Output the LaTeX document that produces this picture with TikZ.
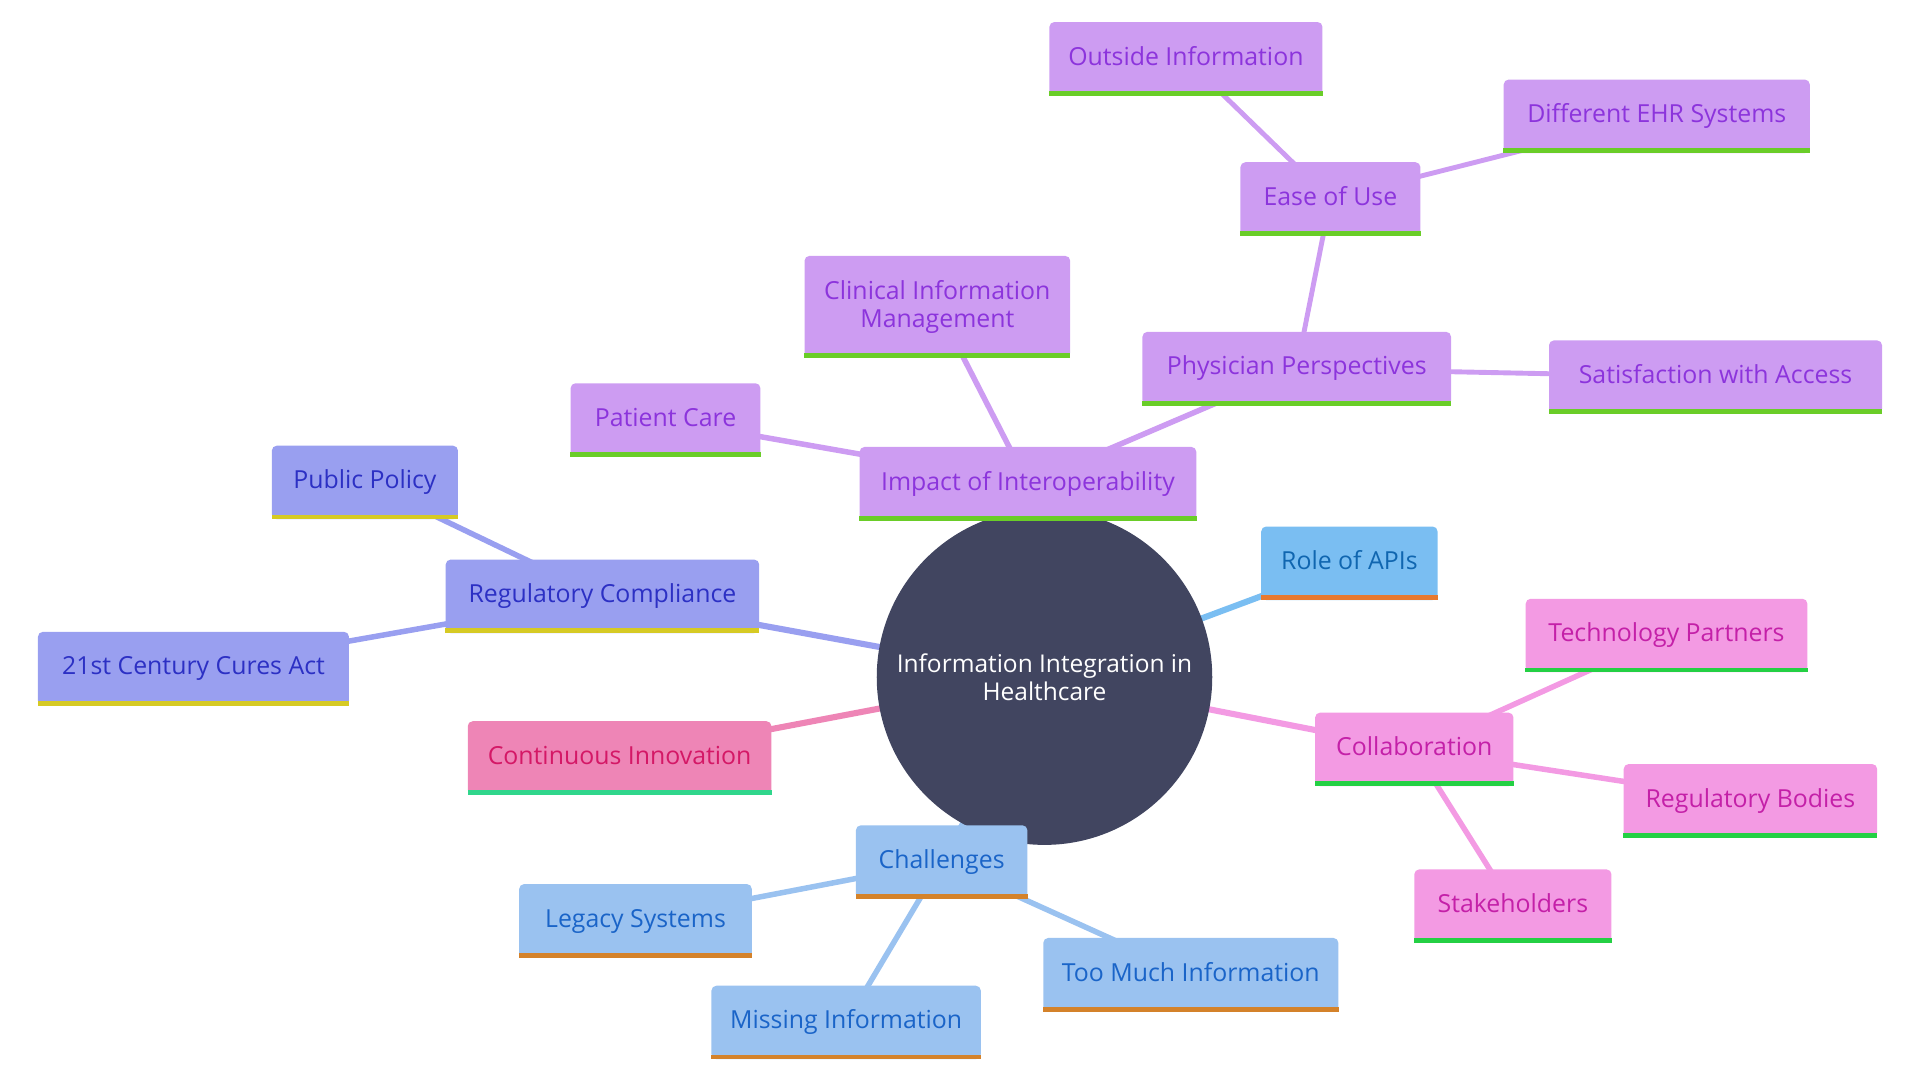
\documentclass[tikz,border=0pt]{standalone}
\usepackage{fontspec}
\setmainfont{Open Sans}
\definecolor{rootc}{RGB}{65,69,96}
\definecolor{pfill}{RGB}{205,156,242}
\definecolor{ptext}{RGB}{140,52,220}
\definecolor{pbar}{RGB}{106,205,40}
\definecolor{vfill}{RGB}{153,159,240}
\definecolor{vtext}{RGB}{44,48,196}
\definecolor{vbar}{RGB}{214,202,36}
\definecolor{afill}{RGB}{122,190,242}
\definecolor{atext}{RGB}{16,102,176}
\definecolor{abar}{RGB}{232,121,46}
\definecolor{kfill}{RGB}{243,154,227}
\definecolor{ktext}{RGB}{196,32,168}
\definecolor{kbar}{RGB}{36,208,68}
\definecolor{ifill}{RGB}{238,133,182}
\definecolor{itext}{RGB}{212,24,102}
\definecolor{ibar}{RGB}{48,214,140}
\definecolor{cfill}{RGB}{154,194,240}
\definecolor{ctext}{RGB}{26,100,200}
\definecolor{cbar}{RGB}{212,130,42}
\tikzset{
  mmbox/.style={rectangle, rounded corners=4pt, inner sep=0pt, align=center,
    font=\fontsize{20.3}{23}\selectfont, minimum height=60pt,
    text height=15.4pt, text depth=5pt},
  purp/.style={mmbox, fill=pfill, text=ptext},
  viol/.style={mmbox, fill=vfill, text=vtext},
  apis/.style={mmbox, fill=afill, text=atext},
  pink/.style={mmbox, fill=kfill, text=ktext},
  innov/.style={mmbox, fill=ifill, text=itext},
  chal/.style={mmbox, fill=cfill, text=ctext},
  rootnode/.style={circle, fill=rootc, text=white, minimum size=274pt, inner sep=0pt,
    align=center, font=\fontsize{20}{23}\selectfont},
  e1/.style={line width=5pt},
  e2/.style={line width=4.5pt},
  e3/.style={line width=4pt},
}
\begin{document}
\begin{tikzpicture}[x=1pt,y=-1pt]
\useasboundingbox (0,0) rectangle (1568,882);
\coordinate (root) at (853,553);
\coordinate (impact) at (839.5,395);
\coordinate (patient) at (543.5,343);
\coordinate (clinical) at (765.5,250.5);
\coordinate (physician) at (1059,301);
\coordinate (ease) at (1086.5,162.5);
\coordinate (outside) at (968.5,48);
\coordinate (ehr) at (1353,95);
\coordinate (satis) at (1401,308);
\coordinate (regcomp) at (492,487);
\coordinate (public) at (298,394);
\coordinate (cures) at (158,546);
\coordinate (apis) at (1102,460);
\coordinate (collab) at (1155,612);
\coordinate (tech) at (1361,519);
\coordinate (regbod) at (1429.5,654);
\coordinate (stake) at (1235.5,740);
\coordinate (innov) at (506,619);
\coordinate (chal) at (769,704);
\coordinate (legacy) at (519,752);
\coordinate (toomuch) at (972.5,796);
\coordinate (missing) at (691,835);
% connectors
\draw[e1, draw=pfill] (root) -- (impact);
\draw[e1, draw=vfill] (root) -- (regcomp);
\draw[e1, draw=afill] (root) -- (apis);
\draw[e1, draw=kfill] (root) -- (collab);
\draw[e1, draw=ifill] (root) -- (innov);
\draw[e1, draw=cfill] (root) -- (chal);
\draw[e2, draw=pfill] (impact) -- (patient);
\draw[e2, draw=pfill] (impact) -- (clinical);
\draw[e2, draw=pfill] (impact) -- (physician);
\draw[e3, draw=pfill] (physician) -- (ease);
\draw[e3, draw=pfill] (physician) -- (satis);
\draw[e3, draw=pfill] (ease) -- (outside);
\draw[e3, draw=pfill] (ease) -- (ehr);
\draw[e2, draw=vfill] (regcomp) -- (public);
\draw[e2, draw=vfill] (regcomp) -- (cures);
\draw[e2, draw=kfill] (collab) -- (tech);
\draw[e2, draw=kfill] (collab) -- (regbod);
\draw[e2, draw=kfill] (collab) -- (stake);
\draw[e2, draw=cfill] (chal) -- (legacy);
\draw[e2, draw=cfill] (chal) -- (missing);
\draw[e2, draw=cfill] (chal) -- (toomuch);
% nodes
\node[rootnode] (nroot) at (root) {Information Integration in\\Healthcare};
\node[purp, minimum width=275pt] (nimpact) at (impact) {Impact of Interoperability};
\node[purp, minimum width=155pt] (npatient) at (patient) {Patient Care};
\node[purp, minimum width=217pt, minimum height=83pt, text height={}, text depth={}] (nclinical) at (clinical) {Clinical Information\\Management};
\node[purp, minimum width=252pt] (nphysician) at (physician) {Physician Perspectives};
\node[purp, minimum width=147pt] (nease) at (ease) {Ease of Use};
\node[purp, minimum width=223pt] (noutside) at (outside) {Outside Information};
\node[purp, minimum width=250pt] (nehr) at (ehr) {Different EHR Systems};
\node[purp, minimum width=272pt] (nsatis) at (satis) {Satisfaction with Access};
\node[viol, minimum width=256pt] (nregcomp) at (regcomp) {Regulatory Compliance};
\node[viol, minimum width=152pt] (npublic) at (public) {Public Policy};
\node[viol, minimum width=254pt] (ncures) at (cures) {21st Century Cures Act};
\node[apis, minimum width=144pt] (napis) at (apis) {Role of APIs};
\node[pink, minimum width=162pt] (ncollab) at (collab) {Collaboration};
\node[pink, minimum width=230pt] (ntech) at (tech) {Technology Partners};
\node[pink, minimum width=207pt] (nregbod) at (regbod) {Regulatory Bodies};
\node[pink, minimum width=161pt] (nstake) at (stake) {Stakeholders};
\node[innov, minimum width=248pt] (ninnov) at (innov) {Continuous Innovation};
\node[chal, minimum width=140pt] (nchal) at (chal) {Challenges};
\node[chal, minimum width=190pt] (nlegacy) at (legacy) {Legacy Systems};
\node[chal, minimum width=241pt] (ntoomuch) at (toomuch) {Too Much Information};
\node[chal, minimum width=220pt] (nmissing) at (missing) {Missing Information};
% bottom bars
\foreach \n/\c in {nimpact/pbar, npatient/pbar, nclinical/pbar, nphysician/pbar,
  nease/pbar, noutside/pbar, nehr/pbar, nsatis/pbar,
  nregcomp/vbar, npublic/vbar, ncures/vbar, napis/abar,
  ncollab/kbar, ntech/kbar, nregbod/kbar, nstake/kbar, ninnov/ibar,
  nchal/cbar, nlegacy/cbar, ntoomuch/cbar, nmissing/cbar}
  \fill[\c] (\n.south west) rectangle ([yshift=4pt]\n.south east);
\end{tikzpicture}
\end{document}
